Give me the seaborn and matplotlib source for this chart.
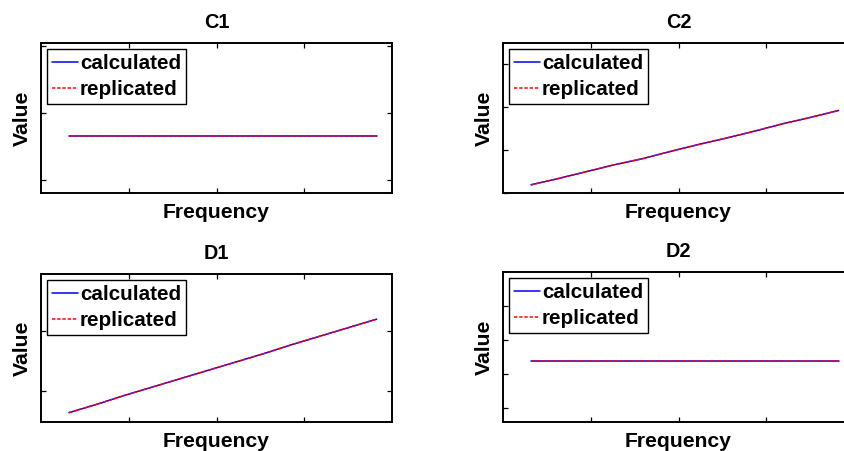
import numpy as np
import pandas as pd
import matplotlib
matplotlib.use("Agg")
import matplotlib.pyplot as plt
import seaborn as sns

# ---- data (y scale is arbitrary since no tick labels) ----
frequency = [1, 2, 3, 4, 5, 6, 7, 8, 9, 10, 11, 12]

c1_calculated = [0.83] * 12
c1_replicated = [0.83] * 12
c2_calculated = [0.19, 0.34, 0.50, 0.66, 0.80, 0.97, 1.13, 1.28, 1.44, 1.61, 1.76, 1.92]
c2_replicated = [0.19, 0.34, 0.50, 0.66, 0.80, 0.97, 1.13, 1.28, 1.44, 1.61, 1.76, 1.92]
d1_calculated = [0.64, 0.78, 0.93, 1.07, 1.21, 1.35, 1.49, 1.63, 1.78, 1.92, 2.06, 2.20]
d1_replicated = [0.64, 0.78, 0.93, 1.07, 1.21, 1.35, 1.49, 1.63, 1.78, 1.92, 2.06, 2.20]
d2_calculated = [2.39] * 12
d2_replicated = [2.39] * 12

titles = ["C1", "C2", "D1", "D2"]
series_labels = ["calculated", "replicated"]
y_limits = [(0.403, 1.522), (0.0, 3.49), (0.484, 2.954), (0.59, 5.0)]
y_ticks = [[0.5, 1.0, 1.5], [0, 1, 2, 3], [1, 2], [1, 2, 3, 4]]
x_limits = (0.0, 12.55)

panels = [
    (c1_calculated, c1_replicated),
    (c2_calculated, c2_replicated),
    (d1_calculated, d1_replicated),
    (d2_calculated, d2_replicated),
]

# ---- style ----
sns.set_theme(style="white")
plt.rcParams["font.family"] = ["Liberation Sans", "DejaVu Sans"]
plt.rcParams["font.weight"] = "bold"
plt.rcParams["text.color"] = "black"
plt.rcParams["axes.labelcolor"] = "black"

W, H = 845, 451
fig = plt.figure(figsize=(W / 100, H / 100), dpi=100)

# axes boxes in pixels: (left, top, right, bottom)
boxes = [
    (41, 43, 392, 193),
    (503, 43, 854, 193),
    (41, 274, 392, 422),
    (503, 272, 854, 422),
]

fs = 15.2
fs_leg = 14.9
for i, (calc, rep) in enumerate(panels):
    l, t, r, b = boxes[i]
    ax = fig.add_axes([l / W, 1 - b / H, (r - l) / W, (b - t) / H])
    df = pd.DataFrame({"Frequency": frequency, "calc": calc, "rep": rep})
    sns.lineplot(data=df, x="Frequency", y="calc", ax=ax, color=(0, 0, 1),
                 linewidth=1.1, label=series_labels[0])
    sns.lineplot(data=df, x="Frequency", y="rep", ax=ax, color=(1, 0, 0),
                 linewidth=1.1, linestyle=(0, (2.2, 1.2)), label=series_labels[1])
    ax.set_xlim(*x_limits)
    ax.set_ylim(*y_limits[i])
    xt = np.linspace(x_limits[0], x_limits[1], 5)[1:-1]
    ax.set_xticks(xt)
    ax.set_yticks(y_ticks[i])
    ax.set_xticklabels([])
    ax.set_yticklabels([])
    ax.tick_params(direction="in", length=3.5, width=0.9, color="black",
                   top=True, right=True, bottom=True, left=True)
    for s in ax.spines.values():
        s.set_color("black")
        s.set_linewidth(1.4)
        s.set_visible(True)
    ax.set_title(titles[i], fontsize=14.3, fontweight="bold", pad=11, color="black")
    ax.set_xlabel("Frequency", fontsize=fs, fontweight="bold", labelpad=3.5, color="black")
    ax.set_ylabel("Value", fontsize=fs, fontweight="bold", labelpad=3, color="black")
    leg = ax.legend(loc="upper left", fontsize=fs_leg, frameon=True, fancybox=False,
                    handlelength=1.25, handletextpad=0.08, borderpad=0.25,
                    labelspacing=0.32, borderaxespad=0.3)
    leg.get_frame().set_edgecolor("black")
    leg.get_frame().set_linewidth(1.0)
    leg.get_frame().set_alpha(1)
    for txt in leg.get_texts():
        txt.set_fontweight("bold")
        txt.set_color("black")
    ax.grid(False)

fig.savefig("out.png", dpi=100)
